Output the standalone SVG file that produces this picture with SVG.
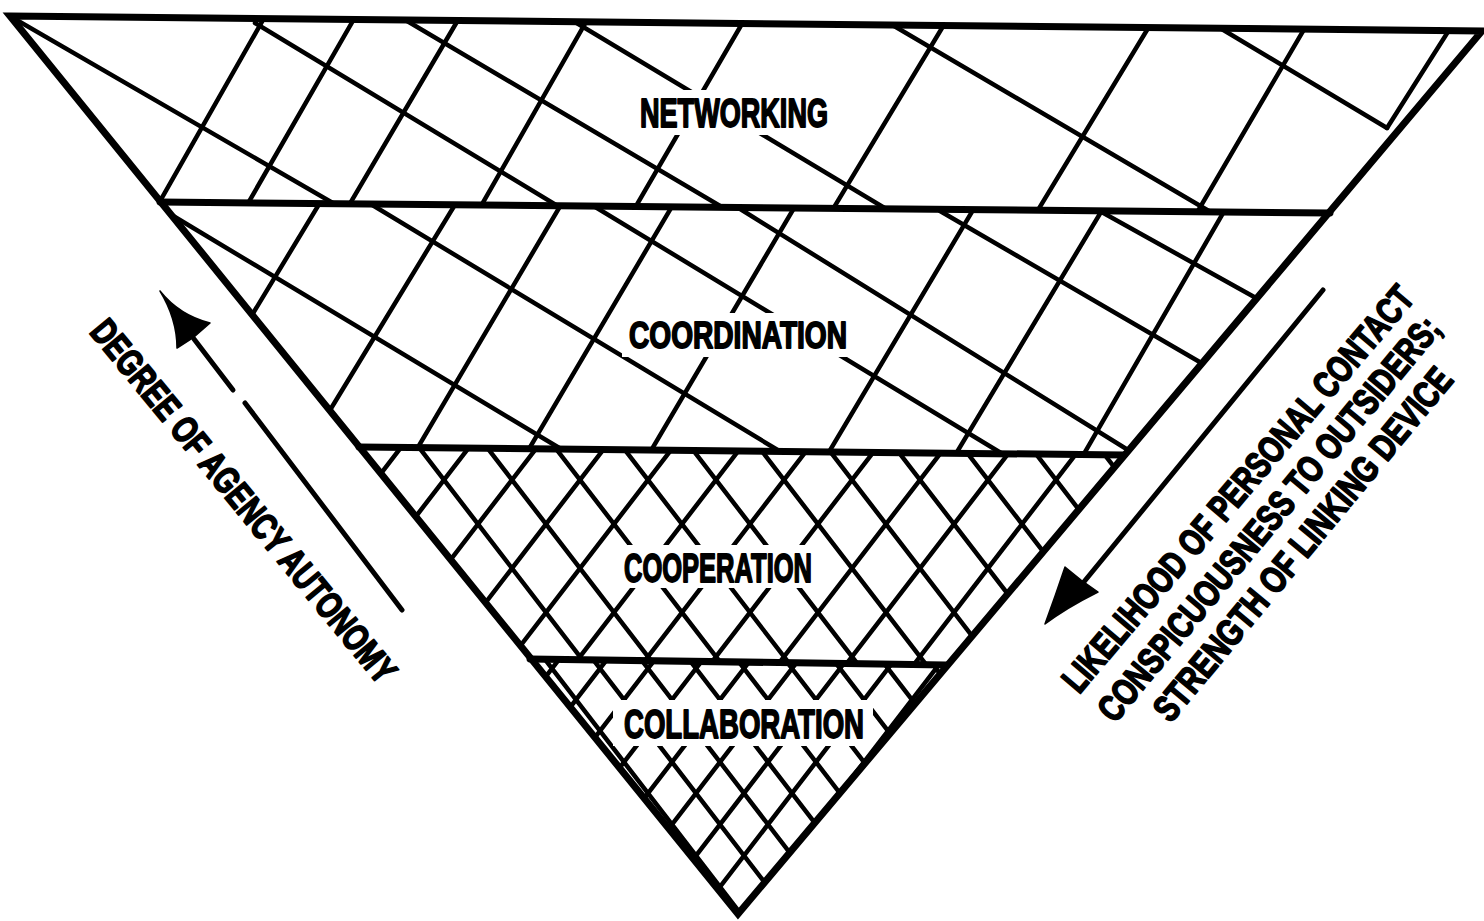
<svg xmlns="http://www.w3.org/2000/svg" width="1484" height="921" viewBox="0 0 1484 921">
<style>
.h{stroke:#000;stroke-width:4.5;stroke-linecap:round;fill:none}
.b{stroke:#000;stroke-width:7;stroke-linecap:round;fill:none}
.o{stroke:#000;stroke-width:7;fill:none;stroke-linejoin:miter;stroke-miterlimit:10}
.m{fill:#fff;stroke:none}
.lbl{font-family:"Liberation Sans",Arial,sans-serif;font-weight:bold;fill:#000;stroke:#000;stroke-width:1.8;stroke-linejoin:round}
.ax{stroke:#000;stroke-width:5;stroke-linecap:round;fill:none}
.hd{fill:#000;stroke:#000;stroke-width:1.5;stroke-linejoin:round}
</style>
<defs>
<clipPath id="c1"><polygon points="10,16 1482,31 1328,213 160,202"/></clipPath>
<clipPath id="c2"><polygon points="160,202 1328,213 1124,455 359,447"/></clipPath>
<clipPath id="c3"><polygon points="359,447 1124,455 947,665 530,659"/></clipPath>
<clipPath id="c4"><polygon points="530,659 947,665 738,914"/></clipPath>
</defs>
<rect width="1484" height="921" fill="#fff"/>

<g id="networking">
<g class="h" clip-path="url(#c1)">
<line x1="155" y1="210" x2="263" y2="20"/>
<line x1="243" y1="212" x2="354" y2="19"/>
<line x1="345" y1="212" x2="458" y2="20"/>
<line x1="477" y1="213" x2="586" y2="22"/>
<line x1="632" y1="213" x2="743" y2="22"/>
<line x1="830" y1="214" x2="945" y2="23"/>
<line x1="1035" y1="215" x2="1150" y2="25"/>
<line x1="1195" y1="216" x2="1306" y2="26"/>
<line x1="1387" y1="128" x2="1451" y2="27"/>
<line x1="8" y1="15" x2="345" y2="210"/>
<line x1="255" y1="23" x2="566" y2="211"/>
<line x1="402" y1="18" x2="727" y2="210"/>
<line x1="575" y1="22" x2="893" y2="213"/>
<line x1="889" y1="23" x2="1214" y2="214"/>
<line x1="1215" y1="25" x2="1387" y2="128"/>
</g>
<rect class="m" x="632" y="90" width="204" height="45"/>
<text class="lbl" x="640" y="127" font-size="40" textLength="188" lengthAdjust="spacingAndGlyphs">NETWORKING</text>
</g>

<g id="coordination">
<g class="h" clip-path="url(#c2)">
<line x1="160" y1="208" x2="566" y2="452"/>
<line x1="369" y1="203" x2="781" y2="452"/>
<line x1="592" y1="205" x2="1001" y2="453"/>
<line x1="737" y1="207" x2="1136" y2="455"/>
<line x1="940" y1="211" x2="1210" y2="368"/>
<line x1="1098" y1="210" x2="1265" y2="303"/>
<line x1="246" y1="325" x2="321" y2="201"/>
<line x1="324" y1="420" x2="456" y2="203"/>
<line x1="414" y1="454" x2="562" y2="203"/>
<line x1="526" y1="454" x2="674" y2="203"/>
<line x1="649" y1="454" x2="797" y2="203"/>
<line x1="826" y1="457" x2="976" y2="205"/>
<line x1="954" y1="457" x2="1104" y2="207"/>
<line x1="1081" y1="459" x2="1226" y2="208"/>
</g>
<rect class="m" x="622" y="313" width="230" height="44"/>
<text class="lbl" x="629" y="348" font-size="37" textLength="218" lengthAdjust="spacingAndGlyphs">COORDINATION</text>
</g>

<g id="cooperation">
<g class="h" clip-path="url(#c3)">
<line x1="345.3" y1="440" x2="523.8" y2="672"/>
<line x1="413.3" y1="440" x2="591.8" y2="672"/>
<line x1="481.3" y1="440" x2="659.8" y2="672"/>
<line x1="549.3" y1="440" x2="727.8" y2="672"/>
<line x1="617.3" y1="440" x2="795.8" y2="672"/>
<line x1="685.3" y1="440" x2="863.8" y2="672"/>
<line x1="753.3" y1="440" x2="931.8" y2="672"/>
<line x1="821.3" y1="440" x2="999.8" y2="672"/>
<line x1="889.3" y1="440" x2="1067.8" y2="672"/>
<line x1="957.3" y1="440" x2="1135.8" y2="672"/>
<line x1="1025.3" y1="440" x2="1203.8" y2="672"/>
<line x1="1093.3" y1="440" x2="1271.8" y2="672"/>
<line x1="406.7" y1="440" x2="228.2" y2="672"/>
<line x1="474.7" y1="440" x2="296.2" y2="672"/>
<line x1="542.7" y1="440" x2="364.2" y2="672"/>
<line x1="610.7" y1="440" x2="432.2" y2="672"/>
<line x1="678.7" y1="440" x2="500.2" y2="672"/>
<line x1="746.7" y1="440" x2="568.2" y2="672"/>
<line x1="814.7" y1="440" x2="636.2" y2="672"/>
<line x1="882.7" y1="440" x2="704.2" y2="672"/>
<line x1="950.7" y1="440" x2="772.2" y2="672"/>
<line x1="1018.7" y1="440" x2="840.2" y2="672"/>
<line x1="1086.7" y1="440" x2="908.2" y2="672"/>
<line x1="1154.7" y1="440" x2="976.2" y2="672"/>
</g>
<rect class="m" x="612" y="545" width="208" height="43"/>
<text class="lbl" x="624" y="582" font-size="40" textLength="188" lengthAdjust="spacingAndGlyphs">COOPERATION</text>
</g>

<g id="collaboration">
<g class="h" clip-path="url(#c4)">
<line x1="491.3" y1="652" x2="697.5" y2="920"/>
<line x1="539.3" y1="652" x2="745.5" y2="920"/>
<line x1="587.3" y1="652" x2="793.5" y2="920"/>
<line x1="635.3" y1="652" x2="841.5" y2="920"/>
<line x1="683.3" y1="652" x2="889.5" y2="920"/>
<line x1="731.3" y1="652" x2="937.5" y2="920"/>
<line x1="779.3" y1="652" x2="985.5" y2="920"/>
<line x1="827.3" y1="652" x2="1033.5" y2="920"/>
<line x1="875.3" y1="652" x2="1081.5" y2="920"/>
<line x1="923.3" y1="652" x2="1129.5" y2="920"/>
<line x1="516.7" y1="652" x2="310.5" y2="920"/>
<line x1="564.7" y1="652" x2="358.5" y2="920"/>
<line x1="612.7" y1="652" x2="406.5" y2="920"/>
<line x1="660.7" y1="652" x2="454.5" y2="920"/>
<line x1="708.7" y1="652" x2="502.5" y2="920"/>
<line x1="756.7" y1="652" x2="550.5" y2="920"/>
<line x1="804.7" y1="652" x2="598.5" y2="920"/>
<line x1="852.7" y1="652" x2="646.5" y2="920"/>
<line x1="900.7" y1="652" x2="694.5" y2="920"/>
<line x1="948.7" y1="652" x2="742.5" y2="920"/>
<line x1="996.7" y1="652" x2="790.5" y2="920"/>
</g>
<rect class="m" x="613" y="700" width="260" height="46"/>
<text class="lbl" x="624" y="738" font-size="41" textLength="240" lengthAdjust="spacingAndGlyphs">COLLABORATION</text>
</g>

<g id="frame">
<polygon class="o" points="10,16 1482,31 738,914"/>
<line class="b" x1="160" y1="202" x2="1330" y2="213"/>
<line class="b" x1="359" y1="447" x2="1124" y2="455"/>
<line class="b" x1="530" y1="659" x2="946" y2="665"/>
</g>

<g id="connectors">
<line class="ax" x1="245" y1="403" x2="402" y2="610"/>
<line class="ax" x1="233" y1="390" x2="194" y2="339"/>
<path class="hd" d="M160,291 C172,306 190,318 210,323 L194,337 L177,348 C177,328 171,309 160,291 Z"/>
<line class="ax" x1="1323" y1="290" x2="1083" y2="583"/>
<path class="hd" d="M1045,624 C1052,605 1058,588 1065,567 L1081,580 L1098,592 C1080,601 1062,611 1045,624 Z"/>
</g>

<g id="axis-labels">
<text class="lbl" transform="translate(244,501) rotate(50.6) scale(0.75,1)" x="-305.3" y="13" font-size="37" textLength="610.7" lengthAdjust="spacingAndGlyphs">DEGREE OF AGENCY AUTONOMY</text>
<text class="lbl" transform="translate(1237.5,488.5) rotate(-49.6) scale(0.75,1)" x="-346.7" y="13" font-size="37" textLength="693.3" lengthAdjust="spacingAndGlyphs">LIKELIHOOD OF PERSONAL CONTACT</text>
<text class="lbl" transform="translate(1268.5,518.5) rotate(-50.3) scale(0.75,1)" x="-342" y="13" font-size="37" textLength="684" lengthAdjust="spacingAndGlyphs">CONSPICUOUSNESS TO OUTSIDERS;</text>
<text class="lbl" transform="translate(1302.5,544) rotate(-50.4) scale(0.75,1)" x="-297.3" y="13" font-size="37" textLength="594.7" lengthAdjust="spacingAndGlyphs">STRENGTH OF LINKING DEVICE</text>
</g>
</svg>
